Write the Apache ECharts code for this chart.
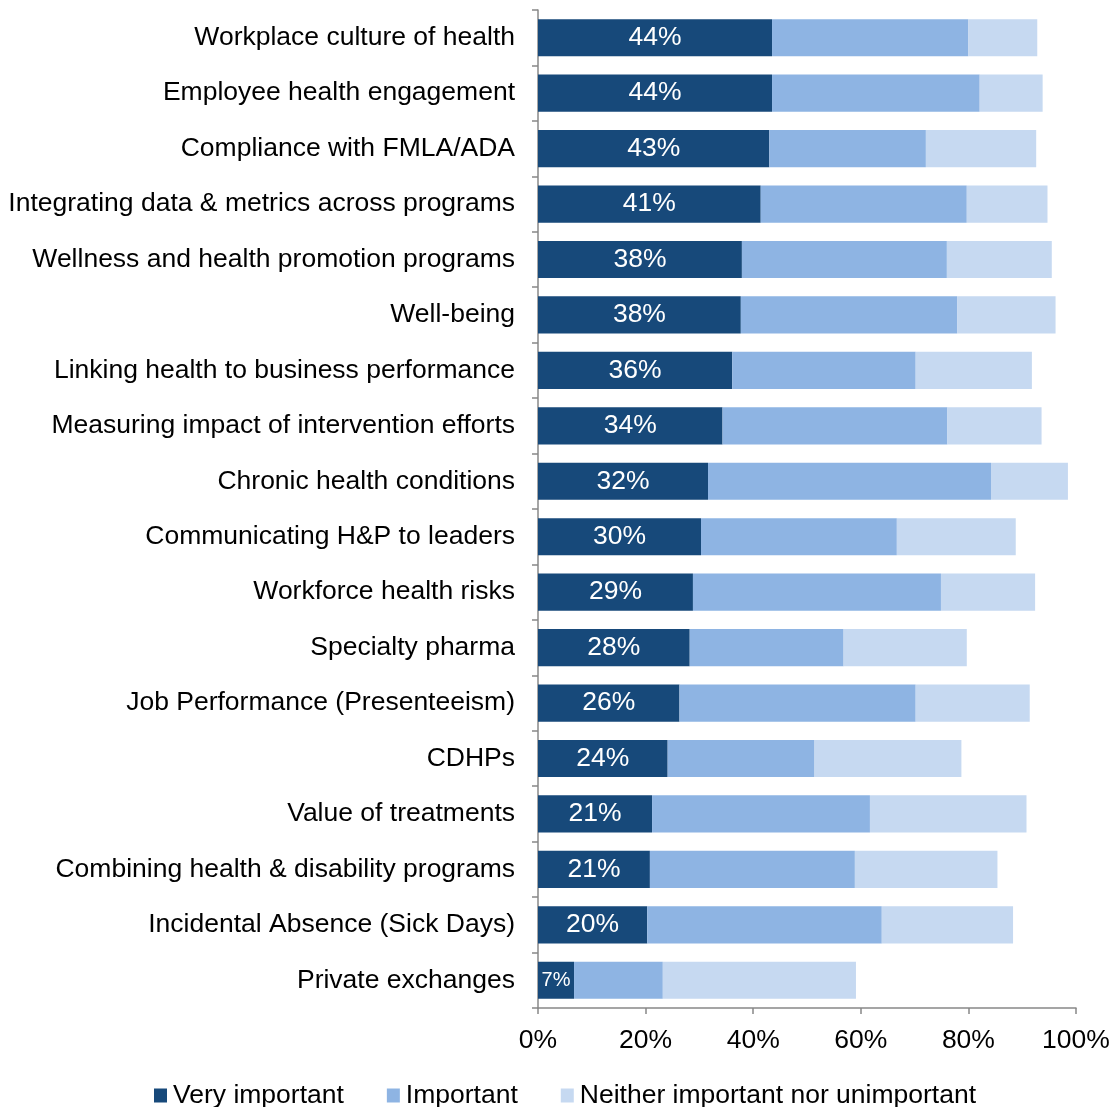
<!DOCTYPE html>
<html><head><meta charset="utf-8">
<script src="https://cdn.jsdelivr.net/npm/echarts@6/dist/echarts.min.js"></script>
<style>html,body{margin:0;padding:0;background:#fff}#c{width:1113px;height:1107px}</style>
</head><body><div id="c"></div>
<script>
const categories = [
  "Workplace culture of health",
  "Employee health engagement",
  "Compliance with FMLA/ADA",
  "Integrating data & metrics across programs",
  "Wellness and health promotion programs",
  "Well-being",
  "Linking health to business performance",
  "Measuring impact of intervention efforts",
  "Chronic health conditions",
  "Communicating H&P to leaders",
  "Workforce health risks",
  "Specialty pharma",
  "Job Performance (Presenteeism)",
  "CDHPs",
  "Value of treatments",
  "Combining health & disability programs",
  "Incidental Absence (Sick Days)",
  "Private exchanges"
];
const veryImportant = [43.5,43.5,43.0,41.4,37.9,37.7,36.1,34.3,31.6,30.3,28.8,28.2,26.3,24.1,21.2,20.8,20.3,6.7];
const important = [36.5,38.6,29.1,38.3,38.1,40.2,34.1,41.8,52.6,36.4,46.1,28.6,43.9,27.3,40.5,38.1,43.6,16.5];
const neither = [12.8,11.7,20.5,15.0,19.5,18.3,21.6,17.5,14.3,22.1,17.5,22.9,21.2,27.3,29.1,26.5,24.4,35.9];
const seriesNames = ["Very important","Important","Neither important nor unimportant"];
const xTicks = [0,20,40,60,80,100];

const FONT = "Liberation Sans, Arial, sans-serif";
const FS = 26.5;
const colors = ["#17497A","#8EB4E3","#C6D9F1"];
const chart = echarts.init(document.getElementById('c'), null, {renderer:'canvas'});
const cats = categories.slice().reverse();
function rev(a){return a.slice().reverse();}
const veryData = rev(veryImportant).map(v => v < 10 ? {value:v, label:{fontSize:20}} : v);
chart.setOption({
  animation:false,
  color: colors,
  grid:{left:538, right:37, top:10, bottom:99, containLabel:false},
  legend:{
    top:1077, left:149, itemWidth:13, itemHeight:14, itemGap:43,
    icon:'rect',
    textStyle:{fontFamily:FONT, fontSize:FS, color:'#000', padding:[0,0,0,1]},
    data: seriesNames
  },
  xAxis:{
    type:'value', min:xTicks[0], max:xTicks[xTicks.length-1], interval:xTicks[1]-xTicks[0],
    axisLine:{show:true, lineStyle:{color:'#888', width:1.5}},
    axisTick:{show:true, length:6, lineStyle:{color:'#888', width:1.5}},
    splitLine:{show:false},
    axisLabel:{fontFamily:FONT, fontSize:FS, color:'#000', margin:19, formatter: v => v + '%'}
  },
  yAxis:{
    type:'category', data:cats,
    axisLine:{show:true, lineStyle:{color:'#888', width:1.5}},
    axisTick:{show:true, length:6, inside:false, lineStyle:{color:'#888', width:1.5}},
    axisLabel:{fontFamily:FONT, fontSize:FS, color:'#000', margin:23}
  },
  series:[
    {name:seriesNames[0], type:'bar', stack:'s', barCategoryGap:'33%', data:veryData,
     label:{show:true, position:'inside', color:'#fff', fontFamily:FONT, fontSize:FS,
            formatter: p => Math.round(p.value) + '%'}},
    {name:seriesNames[1], type:'bar', stack:'s', data:rev(important)},
    {name:seriesNames[2], type:'bar', stack:'s', data:rev(neither)}
  ]
});
</script></body></html>
